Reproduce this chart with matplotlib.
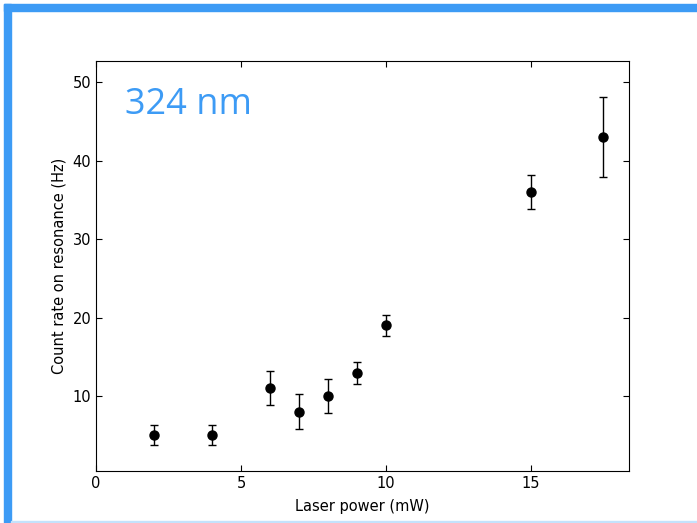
import matplotlib
matplotlib.use("Agg")
import matplotlib.pyplot as plt
from matplotlib.patches import Rectangle

power = [2, 4, 6, 7, 8, 9, 10, 15, 17.5]
rate = [5, 5, 11, 8, 10, 13, 19, 36, 43]
err = [1.3, 1.3, 2.2, 2.2, 2.2, 1.4, 1.3, 2.2, 5.1]
xticks = [0, 5, 10, 15]
yticks = [10, 20, 30, 40, 50]

W, H = 697, 523
fig = plt.figure(figsize=(W / 100, H / 100), dpi=100)
fig.patch.set_facecolor("white")

blue = "#3d9bf5"
# slide frame
fig.patches.append(Rectangle((4 / W, 0), 7 / W, 1 - 4 / H, transform=fig.transFigure, color=blue, zorder=0))
fig.patches.append(Rectangle((4 / W, 1 - 11 / H), 1 - 4 / W, 7 / H, transform=fig.transFigure, color=blue, zorder=0))
fig.patches.append(Rectangle((11 / W, 0), 1 - 11 / W, 2 / H, transform=fig.transFigure, color="#c4e2fc", zorder=0))

ax = fig.add_axes([96 / W, 1 - 471 / H, (629 - 96) / W, (471 - 61) / H])
ax.errorbar(power, rate, yerr=err, fmt="o", color="black", ecolor="black",
            markersize=6.5, capsize=3, elinewidth=1, capthick=1)
ax.set_xlim(0, 18.38)
ax.set_ylim(0.45, 52.7)
ax.set_xticks(xticks)
ax.set_yticks(yticks)
ax.tick_params(direction="in", top=True, right=True, length=4, labelsize=10.5)
ax.set_xlabel("Laser power (mW)", fontsize=10.5, labelpad=6)
ax.set_ylabel("Count rate on resonance (Hz)", fontsize=10.5)
ax.text(1.0, 46.0, "324 nm", color=blue, fontsize=26, family=["Open Sans", "DejaVu Sans"],
        ha="left", va="baseline")

fig.savefig("out.png", dpi=100)
